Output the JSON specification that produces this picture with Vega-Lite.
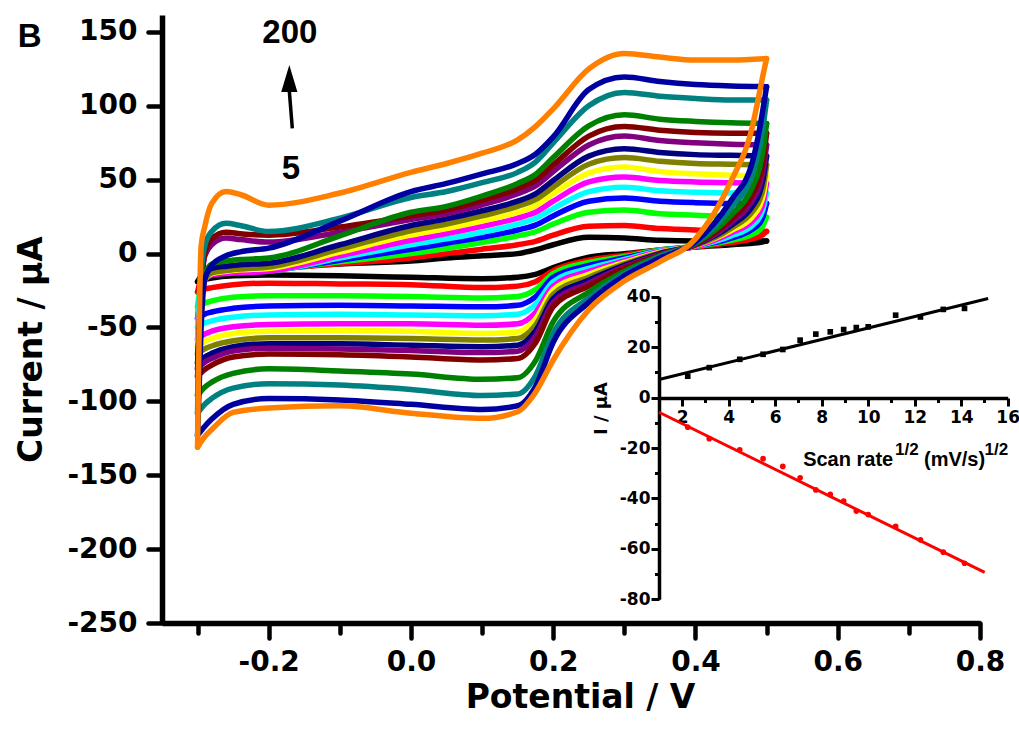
{
"$schema": "https://vega.github.io/schema/vega-lite/v6.json",
"width": 818, "height": 608,
"autosize": {"type": "none"},
"padding": {"left": 162, "top": 15, "right": 39, "bottom": 112},
"background": "white",
"config": {"view": {"stroke": null}, "axis": {"grid": false}},
"datasets": {
"cv": [
{"s":5,"b":"u","x":-0.3,"y":-19},{"s":5,"b":"u","x":-0.295,"y":-15},{"s":5,"b":"u","x":-0.29,"y":-13},{"s":5,"b":"u","x":-0.28,"y":-11.5},{"s":5,"b":"u","x":-0.26,"y":-10.5},{"s":5,"b":"u","x":-0.24,"y":-10},{"s":5,"b":"u","x":-0.2,"y":-9},{"s":5,"b":"u","x":-0.1,"y":-7},{"s":5,"b":"u","x":0,"y":-5},{"s":5,"b":"u","x":0.05,"y":-3},{"s":5,"b":"u","x":0.1,"y":-1.5},{"s":5,"b":"u","x":0.15,"y":0},{"s":5,"b":"u","x":0.175,"y":2.5},{"s":5,"b":"u","x":0.2,"y":6},{"s":5,"b":"u","x":0.25,"y":11},{"s":5,"b":"u","x":0.3,"y":10.5},{"s":5,"b":"u","x":0.35,"y":9},{"s":5,"b":"u","x":0.4,"y":8.5},{"s":5,"b":"u","x":0.45,"y":8.5},{"s":5,"b":"u","x":0.5,"y":8.5},
{"s":5,"b":"l","x":0.5,"y":8.5},{"s":5,"b":"l","x":0.495,"y":8},{"s":5,"b":"l","x":0.49,"y":7.5},{"s":5,"b":"l","x":0.48,"y":7},{"s":5,"b":"l","x":0.45,"y":6},{"s":5,"b":"l","x":0.4,"y":4.5},{"s":5,"b":"l","x":0.35,"y":2.5},{"s":5,"b":"l","x":0.3,"y":0},{"s":5,"b":"l","x":0.25,"y":-2.5},{"s":5,"b":"l","x":0.2,"y":-9.5},{"s":5,"b":"l","x":0.175,"y":-14},{"s":5,"b":"l","x":0.15,"y":-16},{"s":5,"b":"l","x":0.1,"y":-17},{"s":5,"b":"l","x":0,"y":-16},{"s":5,"b":"l","x":-0.1,"y":-15},{"s":5,"b":"l","x":-0.2,"y":-14.5},{"s":5,"b":"l","x":-0.25,"y":-15},{"s":5,"b":"l","x":-0.28,"y":-16.5},{"s":5,"b":"l","x":-0.29,"y":-17.5},{"s":5,"b":"l","x":-0.3,"y":-19},
{"s":10,"b":"u","x":-0.3,"y":-26},{"s":10,"b":"u","x":-0.295,"y":-17},{"s":10,"b":"u","x":-0.29,"y":-14},{"s":10,"b":"u","x":-0.28,"y":-12.5},{"s":10,"b":"u","x":-0.26,"y":-12},{"s":10,"b":"u","x":-0.24,"y":-11.5},{"s":10,"b":"u","x":-0.2,"y":-10.5},{"s":10,"b":"u","x":-0.1,"y":-6.8},{"s":10,"b":"u","x":0,"y":-3},{"s":10,"b":"u","x":0.05,"y":0},{"s":10,"b":"u","x":0.1,"y":3},{"s":10,"b":"u","x":0.15,"y":6},{"s":10,"b":"u","x":0.175,"y":8.3},{"s":10,"b":"u","x":0.2,"y":12.5},{"s":10,"b":"u","x":0.25,"y":18.5},{"s":10,"b":"u","x":0.3,"y":19},{"s":10,"b":"u","x":0.35,"y":17},{"s":10,"b":"u","x":0.4,"y":16},{"s":10,"b":"u","x":0.45,"y":15.5},{"s":10,"b":"u","x":0.5,"y":15},
{"s":10,"b":"l","x":0.5,"y":15},{"s":10,"b":"l","x":0.495,"y":13},{"s":10,"b":"l","x":0.49,"y":11.5},{"s":10,"b":"l","x":0.48,"y":10},{"s":10,"b":"l","x":0.45,"y":7.5},{"s":10,"b":"l","x":0.4,"y":4.5},{"s":10,"b":"l","x":0.35,"y":2.5},{"s":10,"b":"l","x":0.3,"y":-1},{"s":10,"b":"l","x":0.25,"y":-4.5},{"s":10,"b":"l","x":0.2,"y":-11.5},{"s":10,"b":"l","x":0.175,"y":-19},{"s":10,"b":"l","x":0.15,"y":-22},{"s":10,"b":"l","x":0.1,"y":-23},{"s":10,"b":"l","x":0,"y":-21},{"s":10,"b":"l","x":-0.1,"y":-20.5},{"s":10,"b":"l","x":-0.2,"y":-20},{"s":10,"b":"l","x":-0.25,"y":-21},{"s":10,"b":"l","x":-0.28,"y":-23},{"s":10,"b":"l","x":-0.29,"y":-24},{"s":10,"b":"l","x":-0.3,"y":-26},
{"s":20,"b":"u","x":-0.3,"y":-36},{"s":20,"b":"u","x":-0.295,"y":-21},{"s":20,"b":"u","x":-0.29,"y":-15.5},{"s":20,"b":"u","x":-0.28,"y":-13.5},{"s":20,"b":"u","x":-0.26,"y":-12.5},{"s":20,"b":"u","x":-0.24,"y":-12},{"s":20,"b":"u","x":-0.2,"y":-11},{"s":20,"b":"u","x":-0.1,"y":-5.5},{"s":20,"b":"u","x":0,"y":0},{"s":20,"b":"u","x":0.05,"y":3.5},{"s":20,"b":"u","x":0.1,"y":7.5},{"s":20,"b":"u","x":0.15,"y":12},{"s":20,"b":"u","x":0.175,"y":14.8},{"s":20,"b":"u","x":0.2,"y":20},{"s":20,"b":"u","x":0.25,"y":28},{"s":20,"b":"u","x":0.3,"y":29.5},{"s":20,"b":"u","x":0.35,"y":27},{"s":20,"b":"u","x":0.4,"y":26},{"s":20,"b":"u","x":0.45,"y":25},{"s":20,"b":"u","x":0.5,"y":24.7},
{"s":20,"b":"l","x":0.5,"y":24.7},{"s":20,"b":"l","x":0.495,"y":19},{"s":20,"b":"l","x":0.49,"y":16},{"s":20,"b":"l","x":0.48,"y":13},{"s":20,"b":"l","x":0.45,"y":9},{"s":20,"b":"l","x":0.4,"y":5},{"s":20,"b":"l","x":0.35,"y":2.5},{"s":20,"b":"l","x":0.3,"y":-2},{"s":20,"b":"l","x":0.25,"y":-6},{"s":20,"b":"l","x":0.2,"y":-13.5},{"s":20,"b":"l","x":0.175,"y":-24.4},{"s":20,"b":"l","x":0.15,"y":-29},{"s":20,"b":"l","x":0.1,"y":-30},{"s":20,"b":"l","x":0,"y":-29},{"s":20,"b":"l","x":-0.1,"y":-28.5},{"s":20,"b":"l","x":-0.2,"y":-28.5},{"s":20,"b":"l","x":-0.25,"y":-29.5},{"s":20,"b":"l","x":-0.28,"y":-32},{"s":20,"b":"l","x":-0.29,"y":-33.5},{"s":20,"b":"l","x":-0.3,"y":-36},
{"s":30,"b":"u","x":-0.3,"y":-44},{"s":30,"b":"u","x":-0.295,"y":-24},{"s":30,"b":"u","x":-0.29,"y":-16.5},{"s":30,"b":"u","x":-0.28,"y":-14},{"s":30,"b":"u","x":-0.26,"y":-13},{"s":30,"b":"u","x":-0.24,"y":-12.5},{"s":30,"b":"u","x":-0.2,"y":-11.5},{"s":30,"b":"u","x":-0.1,"y":-4.5},{"s":30,"b":"u","x":0,"y":3},{"s":30,"b":"u","x":0.05,"y":7},{"s":30,"b":"u","x":0.1,"y":11},{"s":30,"b":"u","x":0.15,"y":16},{"s":30,"b":"u","x":0.175,"y":19.3},{"s":30,"b":"u","x":0.2,"y":25.5},{"s":30,"b":"u","x":0.25,"y":35.5},{"s":30,"b":"u","x":0.3,"y":37.6},{"s":30,"b":"u","x":0.35,"y":35.5},{"s":30,"b":"u","x":0.4,"y":34.5},{"s":30,"b":"u","x":0.45,"y":34},{"s":30,"b":"u","x":0.5,"y":34},
{"s":30,"b":"l","x":0.5,"y":34},{"s":30,"b":"l","x":0.495,"y":25},{"s":30,"b":"l","x":0.49,"y":20.5},{"s":30,"b":"l","x":0.48,"y":16.5},{"s":30,"b":"l","x":0.45,"y":10.5},{"s":30,"b":"l","x":0.4,"y":5},{"s":30,"b":"l","x":0.35,"y":2},{"s":30,"b":"l","x":0.3,"y":-3},{"s":30,"b":"l","x":0.25,"y":-8},{"s":30,"b":"l","x":0.2,"y":-16},{"s":30,"b":"l","x":0.175,"y":-29.3},{"s":30,"b":"l","x":0.15,"y":-35},{"s":30,"b":"l","x":0.1,"y":-36},{"s":30,"b":"l","x":0,"y":-35.5},{"s":30,"b":"l","x":-0.1,"y":-35},{"s":30,"b":"l","x":-0.2,"y":-35.5},{"s":30,"b":"l","x":-0.25,"y":-37},{"s":30,"b":"l","x":-0.28,"y":-39.5},{"s":30,"b":"l","x":-0.29,"y":-41},{"s":30,"b":"l","x":-0.3,"y":-44},
{"s":40,"b":"u","x":-0.3,"y":-50},{"s":40,"b":"u","x":-0.295,"y":-17},{"s":40,"b":"u","x":-0.29,"y":-14},{"s":40,"b":"u","x":-0.28,"y":-13},{"s":40,"b":"u","x":-0.26,"y":-12.5},{"s":40,"b":"u","x":-0.24,"y":-12},{"s":40,"b":"u","x":-0.2,"y":-11.5},{"s":40,"b":"u","x":-0.1,"y":-3},{"s":40,"b":"u","x":0,"y":6},{"s":40,"b":"u","x":0.05,"y":10},{"s":40,"b":"u","x":0.1,"y":14.5},{"s":40,"b":"u","x":0.15,"y":20},{"s":40,"b":"u","x":0.175,"y":23.7},{"s":40,"b":"u","x":0.2,"y":30.5},{"s":40,"b":"u","x":0.25,"y":42},{"s":40,"b":"u","x":0.3,"y":45},{"s":40,"b":"u","x":0.35,"y":42.5},{"s":40,"b":"u","x":0.4,"y":41.5},{"s":40,"b":"u","x":0.45,"y":41},{"s":40,"b":"u","x":0.5,"y":41},
{"s":40,"b":"l","x":0.5,"y":41},{"s":40,"b":"l","x":0.495,"y":30},{"s":40,"b":"l","x":0.49,"y":24.5},{"s":40,"b":"l","x":0.48,"y":19},{"s":40,"b":"l","x":0.45,"y":12},{"s":40,"b":"l","x":0.4,"y":5},{"s":40,"b":"l","x":0.35,"y":2},{"s":40,"b":"l","x":0.3,"y":-4},{"s":40,"b":"l","x":0.25,"y":-10},{"s":40,"b":"l","x":0.2,"y":-19},{"s":40,"b":"l","x":0.175,"y":-34.4},{"s":40,"b":"l","x":0.15,"y":-41},{"s":40,"b":"l","x":0.1,"y":-42},{"s":40,"b":"l","x":0,"y":-41.5},{"s":40,"b":"l","x":-0.1,"y":-41},{"s":40,"b":"l","x":-0.2,"y":-41.5},{"s":40,"b":"l","x":-0.25,"y":-43},{"s":40,"b":"l","x":-0.28,"y":-45.5},{"s":40,"b":"l","x":-0.29,"y":-47},{"s":40,"b":"l","x":-0.3,"y":-50},
{"s":50,"b":"u","x":-0.3,"y":-58},{"s":50,"b":"u","x":-0.295,"y":-30},{"s":50,"b":"u","x":-0.29,"y":-18},{"s":50,"b":"u","x":-0.28,"y":-14.5},{"s":50,"b":"u","x":-0.26,"y":-13.5},{"s":50,"b":"u","x":-0.24,"y":-13},{"s":50,"b":"u","x":-0.2,"y":-12},{"s":50,"b":"u","x":-0.1,"y":-1.5},{"s":50,"b":"u","x":0,"y":9},{"s":50,"b":"u","x":0.05,"y":13.5},{"s":50,"b":"u","x":0.1,"y":18.5},{"s":50,"b":"u","x":0.15,"y":24},{"s":50,"b":"u","x":0.175,"y":28},{"s":50,"b":"u","x":0.2,"y":35.5},{"s":50,"b":"u","x":0.25,"y":48.5},{"s":50,"b":"u","x":0.3,"y":51.8},{"s":50,"b":"u","x":0.35,"y":49.5},{"s":50,"b":"u","x":0.4,"y":48.5},{"s":50,"b":"u","x":0.45,"y":48},{"s":50,"b":"u","x":0.5,"y":47.7},
{"s":50,"b":"l","x":0.5,"y":47.7},{"s":50,"b":"l","x":0.495,"y":34},{"s":50,"b":"l","x":0.49,"y":28},{"s":50,"b":"l","x":0.48,"y":22},{"s":50,"b":"l","x":0.45,"y":14},{"s":50,"b":"l","x":0.4,"y":5},{"s":50,"b":"l","x":0.35,"y":1.5},{"s":50,"b":"l","x":0.3,"y":-5},{"s":50,"b":"l","x":0.25,"y":-12},{"s":50,"b":"l","x":0.2,"y":-22},{"s":50,"b":"l","x":0.175,"y":-39.9},{"s":50,"b":"l","x":0.15,"y":-47.5},{"s":50,"b":"l","x":0.1,"y":-48.5},{"s":50,"b":"l","x":0,"y":-47.5},{"s":50,"b":"l","x":-0.1,"y":-47.5},{"s":50,"b":"l","x":-0.2,"y":-48},{"s":50,"b":"l","x":-0.25,"y":-49.5},{"s":50,"b":"l","x":-0.28,"y":-52.5},{"s":50,"b":"l","x":-0.29,"y":-54.5},{"s":50,"b":"l","x":-0.3,"y":-58},
{"s":60,"b":"u","x":-0.3,"y":-63},{"s":60,"b":"u","x":-0.295,"y":-32},{"s":60,"b":"u","x":-0.29,"y":-18},{"s":60,"b":"u","x":-0.28,"y":-13.5},{"s":60,"b":"u","x":-0.26,"y":-12},{"s":60,"b":"u","x":-0.24,"y":-11},{"s":60,"b":"u","x":-0.2,"y":-10},{"s":60,"b":"u","x":-0.1,"y":1},{"s":60,"b":"u","x":0,"y":12.5},{"s":60,"b":"u","x":0.05,"y":17},{"s":60,"b":"u","x":0.1,"y":22},{"s":60,"b":"u","x":0.15,"y":28},{"s":60,"b":"u","x":0.175,"y":32.4},{"s":60,"b":"u","x":0.2,"y":40.5},{"s":60,"b":"u","x":0.25,"y":54.5},{"s":60,"b":"u","x":0.3,"y":58.6},{"s":60,"b":"u","x":0.35,"y":55.5},{"s":60,"b":"u","x":0.4,"y":54},{"s":60,"b":"u","x":0.45,"y":53},{"s":60,"b":"u","x":0.5,"y":52.5},
{"s":60,"b":"l","x":0.5,"y":52.5},{"s":60,"b":"l","x":0.495,"y":39},{"s":60,"b":"l","x":0.49,"y":32},{"s":60,"b":"l","x":0.48,"y":25},{"s":60,"b":"l","x":0.45,"y":15.5},{"s":60,"b":"l","x":0.4,"y":5.5},{"s":60,"b":"l","x":0.35,"y":1},{"s":60,"b":"l","x":0.3,"y":-6},{"s":60,"b":"l","x":0.25,"y":-14},{"s":60,"b":"l","x":0.2,"y":-24.5},{"s":60,"b":"l","x":0.175,"y":-44.5},{"s":60,"b":"l","x":0.15,"y":-53},{"s":60,"b":"l","x":0.1,"y":-54},{"s":60,"b":"l","x":0,"y":-52.5},{"s":60,"b":"l","x":-0.1,"y":-52},{"s":60,"b":"l","x":-0.2,"y":-52.5},{"s":60,"b":"l","x":-0.25,"y":-54},{"s":60,"b":"l","x":-0.28,"y":-57.5},{"s":60,"b":"l","x":-0.29,"y":-59.5},{"s":60,"b":"l","x":-0.3,"y":-63},
{"s":70,"b":"u","x":-0.3,"y":-68},{"s":70,"b":"u","x":-0.295,"y":-35},{"s":70,"b":"u","x":-0.29,"y":-18},{"s":70,"b":"u","x":-0.28,"y":-13},{"s":70,"b":"u","x":-0.26,"y":-11.5},{"s":70,"b":"u","x":-0.24,"y":-10.5},{"s":70,"b":"u","x":-0.2,"y":-9},{"s":70,"b":"u","x":-0.1,"y":3},{"s":70,"b":"u","x":0,"y":15.5},{"s":70,"b":"u","x":0.05,"y":20},{"s":70,"b":"u","x":0.1,"y":25.5},{"s":70,"b":"u","x":0.15,"y":32},{"s":70,"b":"u","x":0.175,"y":36.5},{"s":70,"b":"u","x":0.2,"y":45},{"s":70,"b":"u","x":0.25,"y":60.5},{"s":70,"b":"u","x":0.3,"y":65},{"s":70,"b":"u","x":0.35,"y":62.5},{"s":70,"b":"u","x":0.4,"y":61},{"s":70,"b":"u","x":0.45,"y":60.5},{"s":70,"b":"u","x":0.5,"y":60},
{"s":70,"b":"l","x":0.5,"y":60},{"s":70,"b":"l","x":0.495,"y":44},{"s":70,"b":"l","x":0.49,"y":36},{"s":70,"b":"l","x":0.48,"y":28.5},{"s":70,"b":"l","x":0.45,"y":17},{"s":70,"b":"l","x":0.4,"y":5.5},{"s":70,"b":"l","x":0.35,"y":0.5},{"s":70,"b":"l","x":0.3,"y":-7},{"s":70,"b":"l","x":0.25,"y":-16},{"s":70,"b":"l","x":0.2,"y":-27.5},{"s":70,"b":"l","x":0.175,"y":-48.5},{"s":70,"b":"l","x":0.15,"y":-57.5},{"s":70,"b":"l","x":0.1,"y":-58.5},{"s":70,"b":"l","x":0,"y":-57.5},{"s":70,"b":"l","x":-0.1,"y":-57},{"s":70,"b":"l","x":-0.2,"y":-57},{"s":70,"b":"l","x":-0.25,"y":-59},{"s":70,"b":"l","x":-0.28,"y":-62.5},{"s":70,"b":"l","x":-0.29,"y":-64.5},{"s":70,"b":"l","x":-0.3,"y":-68},
{"s":80,"b":"u","x":-0.3,"y":-74},{"s":80,"b":"u","x":-0.295,"y":-35},{"s":80,"b":"u","x":-0.29,"y":-16},{"s":80,"b":"u","x":-0.28,"y":-10},{"s":80,"b":"u","x":-0.26,"y":-8.5},{"s":80,"b":"u","x":-0.24,"y":-7.5},{"s":80,"b":"u","x":-0.2,"y":-6.5},{"s":80,"b":"u","x":-0.1,"y":6},{"s":80,"b":"u","x":0,"y":19},{"s":80,"b":"u","x":0.05,"y":23.5},{"s":80,"b":"u","x":0.1,"y":29},{"s":80,"b":"u","x":0.15,"y":35.5},{"s":80,"b":"u","x":0.175,"y":40.4},{"s":80,"b":"u","x":0.2,"y":49.5},{"s":80,"b":"u","x":0.25,"y":66},{"s":80,"b":"u","x":0.3,"y":71},{"s":80,"b":"u","x":0.35,"y":68.5},{"s":80,"b":"u","x":0.4,"y":67},{"s":80,"b":"u","x":0.45,"y":66.5},{"s":80,"b":"u","x":0.5,"y":66},
{"s":80,"b":"l","x":0.5,"y":66},{"s":80,"b":"l","x":0.495,"y":50},{"s":80,"b":"l","x":0.49,"y":41},{"s":80,"b":"l","x":0.48,"y":32},{"s":80,"b":"l","x":0.45,"y":19},{"s":80,"b":"l","x":0.4,"y":6},{"s":80,"b":"l","x":0.35,"y":0},{"s":80,"b":"l","x":0.3,"y":-8},{"s":80,"b":"l","x":0.25,"y":-18},{"s":80,"b":"l","x":0.2,"y":-30.5},{"s":80,"b":"l","x":0.175,"y":-52.5},{"s":80,"b":"l","x":0.15,"y":-62},{"s":80,"b":"l","x":0.1,"y":-63},{"s":80,"b":"l","x":0,"y":-62},{"s":80,"b":"l","x":-0.1,"y":-61},{"s":80,"b":"l","x":-0.2,"y":-61},{"s":80,"b":"l","x":-0.25,"y":-63},{"s":80,"b":"l","x":-0.28,"y":-67.5},{"s":80,"b":"l","x":-0.29,"y":-70},{"s":80,"b":"l","x":-0.3,"y":-74},
{"s":90,"b":"u","x":-0.3,"y":-78},{"s":90,"b":"u","x":-0.295,"y":-25},{"s":90,"b":"u","x":-0.29,"y":-2},{"s":90,"b":"u","x":-0.28,"y":6},{"s":90,"b":"u","x":-0.26,"y":10.5},{"s":90,"b":"u","x":-0.24,"y":9.5},{"s":90,"b":"u","x":-0.2,"y":7.8},{"s":90,"b":"u","x":-0.1,"y":14.5},{"s":90,"b":"u","x":0,"y":23},{"s":90,"b":"u","x":0.05,"y":27},{"s":90,"b":"u","x":0.1,"y":33},{"s":90,"b":"u","x":0.15,"y":40.5},{"s":90,"b":"u","x":0.175,"y":45.8},{"s":90,"b":"u","x":0.2,"y":55.5},{"s":90,"b":"u","x":0.25,"y":73.5},{"s":90,"b":"u","x":0.3,"y":79.6},{"s":90,"b":"u","x":0.35,"y":76.5},{"s":90,"b":"u","x":0.4,"y":75},{"s":90,"b":"u","x":0.45,"y":74},{"s":90,"b":"u","x":0.5,"y":73.5},
{"s":90,"b":"l","x":0.5,"y":73.5},{"s":90,"b":"l","x":0.495,"y":56},{"s":90,"b":"l","x":0.49,"y":46},{"s":90,"b":"l","x":0.48,"y":36},{"s":90,"b":"l","x":0.45,"y":21},{"s":90,"b":"l","x":0.4,"y":6},{"s":90,"b":"l","x":0.35,"y":-0.5},{"s":90,"b":"l","x":0.3,"y":-9},{"s":90,"b":"l","x":0.25,"y":-20},{"s":90,"b":"l","x":0.2,"y":-33},{"s":90,"b":"l","x":0.175,"y":-56},{"s":90,"b":"l","x":0.15,"y":-66},{"s":90,"b":"l","x":0.1,"y":-67},{"s":90,"b":"l","x":0,"y":-65.5},{"s":90,"b":"l","x":-0.1,"y":-64.5},{"s":90,"b":"l","x":-0.2,"y":-64},{"s":90,"b":"l","x":-0.25,"y":-66},{"s":90,"b":"l","x":-0.28,"y":-71},{"s":90,"b":"l","x":-0.29,"y":-73.5},{"s":90,"b":"l","x":-0.3,"y":-78},
{"s":100,"b":"u","x":-0.3,"y":-83},{"s":100,"b":"u","x":-0.295,"y":-25},{"s":100,"b":"u","x":-0.29,"y":0},{"s":100,"b":"u","x":-0.28,"y":10},{"s":100,"b":"u","x":-0.26,"y":14.5},{"s":100,"b":"u","x":-0.24,"y":13.5},{"s":100,"b":"u","x":-0.2,"y":12.5},{"s":100,"b":"u","x":-0.1,"y":18},{"s":100,"b":"u","x":0,"y":25.5},{"s":100,"b":"u","x":0.05,"y":29.5},{"s":100,"b":"u","x":0.1,"y":36},{"s":100,"b":"u","x":0.15,"y":44},{"s":100,"b":"u","x":0.175,"y":49.6},{"s":100,"b":"u","x":0.2,"y":60},{"s":100,"b":"u","x":0.25,"y":79.5},{"s":100,"b":"u","x":0.3,"y":86},{"s":100,"b":"u","x":0.35,"y":83.5},{"s":100,"b":"u","x":0.4,"y":82},{"s":100,"b":"u","x":0.45,"y":81.5},{"s":100,"b":"u","x":0.5,"y":81.5},
{"s":100,"b":"l","x":0.5,"y":81.5},{"s":100,"b":"l","x":0.495,"y":62},{"s":100,"b":"l","x":0.49,"y":51},{"s":100,"b":"l","x":0.48,"y":40},{"s":100,"b":"l","x":0.45,"y":23},{"s":100,"b":"l","x":0.4,"y":6.5},{"s":100,"b":"l","x":0.35,"y":-1},{"s":100,"b":"l","x":0.3,"y":-10},{"s":100,"b":"l","x":0.25,"y":-22},{"s":100,"b":"l","x":0.2,"y":-36},{"s":100,"b":"l","x":0.175,"y":-60.5},{"s":100,"b":"l","x":0.15,"y":-71},{"s":100,"b":"l","x":0.1,"y":-72},{"s":100,"b":"l","x":0,"y":-70},{"s":100,"b":"l","x":-0.1,"y":-68.5},{"s":100,"b":"l","x":-0.2,"y":-68},{"s":100,"b":"l","x":-0.25,"y":-70},{"s":100,"b":"l","x":-0.28,"y":-75.5},{"s":100,"b":"l","x":-0.29,"y":-78.5},{"s":100,"b":"l","x":-0.3,"y":-83},
{"s":125,"b":"u","x":-0.3,"y":-96},{"s":125,"b":"u","x":-0.295,"y":-40},{"s":125,"b":"u","x":-0.29,"y":-15},{"s":125,"b":"u","x":-0.28,"y":-7},{"s":125,"b":"u","x":-0.26,"y":-5},{"s":125,"b":"u","x":-0.24,"y":-4},{"s":125,"b":"u","x":-0.2,"y":-3},{"s":125,"b":"u","x":-0.1,"y":12},{"s":125,"b":"u","x":0,"y":28},{"s":125,"b":"u","x":0.05,"y":32},{"s":125,"b":"u","x":0.1,"y":39},{"s":125,"b":"u","x":0.15,"y":47.5},{"s":125,"b":"u","x":0.175,"y":53.6},{"s":125,"b":"u","x":0.2,"y":65},{"s":125,"b":"u","x":0.25,"y":86.5},{"s":125,"b":"u","x":0.3,"y":94},{"s":125,"b":"u","x":0.35,"y":91},{"s":125,"b":"u","x":0.4,"y":89.5},{"s":125,"b":"u","x":0.45,"y":88.5},{"s":125,"b":"u","x":0.5,"y":88},
{"s":125,"b":"l","x":0.5,"y":88},{"s":125,"b":"l","x":0.495,"y":70},{"s":125,"b":"l","x":0.49,"y":58},{"s":125,"b":"l","x":0.48,"y":45},{"s":125,"b":"l","x":0.45,"y":26},{"s":125,"b":"l","x":0.4,"y":7},{"s":125,"b":"l","x":0.35,"y":-1.5},{"s":125,"b":"l","x":0.3,"y":-12},{"s":125,"b":"l","x":0.25,"y":-26},{"s":125,"b":"l","x":0.2,"y":-46},{"s":125,"b":"l","x":0.175,"y":-72.6},{"s":125,"b":"l","x":0.15,"y":-84},{"s":125,"b":"l","x":0.1,"y":-85},{"s":125,"b":"l","x":0,"y":-81.5},{"s":125,"b":"l","x":-0.1,"y":-79.5},{"s":125,"b":"l","x":-0.2,"y":-78},{"s":125,"b":"l","x":-0.25,"y":-81},{"s":125,"b":"l","x":-0.28,"y":-87},{"s":125,"b":"l","x":-0.29,"y":-90.5},{"s":125,"b":"l","x":-0.3,"y":-96},
{"s":150,"b":"u","x":-0.3,"y":-108},{"s":150,"b":"u","x":-0.295,"y":-15},{"s":150,"b":"u","x":-0.29,"y":5},{"s":150,"b":"u","x":-0.28,"y":15},{"s":150,"b":"u","x":-0.26,"y":20.5},{"s":150,"b":"u","x":-0.24,"y":19},{"s":150,"b":"u","x":-0.2,"y":15},{"s":150,"b":"u","x":-0.1,"y":24},{"s":150,"b":"u","x":0,"y":38},{"s":150,"b":"u","x":0.05,"y":42},{"s":150,"b":"u","x":0.1,"y":48},{"s":150,"b":"u","x":0.15,"y":55},{"s":150,"b":"u","x":0.175,"y":62},{"s":150,"b":"u","x":0.2,"y":75},{"s":150,"b":"u","x":0.25,"y":100},{"s":150,"b":"u","x":0.3,"y":109},{"s":150,"b":"u","x":0.35,"y":106.5},{"s":150,"b":"u","x":0.4,"y":105},{"s":150,"b":"u","x":0.45,"y":104},{"s":150,"b":"u","x":0.5,"y":104},
{"s":150,"b":"l","x":0.5,"y":104},{"s":150,"b":"l","x":0.495,"y":86},{"s":150,"b":"l","x":0.49,"y":72},{"s":150,"b":"l","x":0.48,"y":54},{"s":150,"b":"l","x":0.45,"y":31},{"s":150,"b":"l","x":0.4,"y":7.5},{"s":150,"b":"l","x":0.35,"y":-2},{"s":150,"b":"l","x":0.3,"y":-13.5},{"s":150,"b":"l","x":0.25,"y":-30},{"s":150,"b":"l","x":0.2,"y":-54},{"s":150,"b":"l","x":0.175,"y":-82.7},{"s":150,"b":"l","x":0.15,"y":-95},{"s":150,"b":"l","x":0.1,"y":-96},{"s":150,"b":"l","x":0,"y":-92},{"s":150,"b":"l","x":-0.1,"y":-89},{"s":150,"b":"l","x":-0.2,"y":-88},{"s":150,"b":"l","x":-0.25,"y":-91},{"s":150,"b":"l","x":-0.28,"y":-98},{"s":150,"b":"l","x":-0.29,"y":-102},{"s":150,"b":"l","x":-0.3,"y":-108},
{"s":175,"b":"u","x":-0.3,"y":-123},{"s":175,"b":"u","x":-0.295,"y":-50},{"s":175,"b":"u","x":-0.29,"y":-18},{"s":175,"b":"u","x":-0.28,"y":-8},{"s":175,"b":"u","x":-0.26,"y":-1.5},{"s":175,"b":"u","x":-0.24,"y":1.2},{"s":175,"b":"u","x":-0.2,"y":3.7},{"s":175,"b":"u","x":-0.1,"y":22},{"s":175,"b":"u","x":0,"y":42},{"s":175,"b":"u","x":0.05,"y":47.5},{"s":175,"b":"u","x":0.1,"y":54},{"s":175,"b":"u","x":0.15,"y":61},{"s":175,"b":"u","x":0.175,"y":67.3},{"s":175,"b":"u","x":0.2,"y":79},{"s":175,"b":"u","x":0.25,"y":111},{"s":175,"b":"u","x":0.3,"y":119.5},{"s":175,"b":"u","x":0.35,"y":116.5},{"s":175,"b":"u","x":0.4,"y":114.5},{"s":175,"b":"u","x":0.45,"y":113.5},{"s":175,"b":"u","x":0.5,"y":113},
{"s":175,"b":"l","x":0.5,"y":113},{"s":175,"b":"l","x":0.495,"y":98},{"s":175,"b":"l","x":0.49,"y":84},{"s":175,"b":"l","x":0.48,"y":62},{"s":175,"b":"l","x":0.45,"y":36},{"s":175,"b":"l","x":0.4,"y":8},{"s":175,"b":"l","x":0.35,"y":-3},{"s":175,"b":"l","x":0.3,"y":-15},{"s":175,"b":"l","x":0.25,"y":-33},{"s":175,"b":"l","x":0.2,"y":-60},{"s":175,"b":"l","x":0.175,"y":-90},{"s":175,"b":"l","x":0.15,"y":-103},{"s":175,"b":"l","x":0.1,"y":-105.5},{"s":175,"b":"l","x":0,"y":-102},{"s":175,"b":"l","x":-0.1,"y":-99},{"s":175,"b":"l","x":-0.2,"y":-98},{"s":175,"b":"l","x":-0.25,"y":-102},{"s":175,"b":"l","x":-0.28,"y":-112},{"s":175,"b":"l","x":-0.29,"y":-117},{"s":175,"b":"l","x":-0.3,"y":-123},
{"s":200,"b":"u","x":-0.3,"y":-131},{"s":200,"b":"u","x":-0.295,"y":5},{"s":200,"b":"u","x":-0.29,"y":18},{"s":200,"b":"u","x":-0.28,"y":34},{"s":200,"b":"u","x":-0.26,"y":42},{"s":200,"b":"u","x":-0.24,"y":40},{"s":200,"b":"u","x":-0.2,"y":32.8},{"s":200,"b":"u","x":-0.1,"y":41},{"s":200,"b":"u","x":0,"y":55},{"s":200,"b":"u","x":0.05,"y":61},{"s":200,"b":"u","x":0.1,"y":68},{"s":200,"b":"u","x":0.15,"y":77},{"s":200,"b":"u","x":0.175,"y":86},{"s":200,"b":"u","x":0.2,"y":98},{"s":200,"b":"u","x":0.25,"y":125},{"s":200,"b":"u","x":0.3,"y":135.5},{"s":200,"b":"u","x":0.35,"y":133},{"s":200,"b":"u","x":0.4,"y":131},{"s":200,"b":"u","x":0.45,"y":131},{"s":200,"b":"u","x":0.5,"y":132},
{"s":200,"b":"l","x":0.5,"y":132},{"s":200,"b":"l","x":0.495,"y":121},{"s":200,"b":"l","x":0.49,"y":109},{"s":200,"b":"l","x":0.48,"y":86},{"s":200,"b":"l","x":0.45,"y":49},{"s":200,"b":"l","x":0.4,"y":10},{"s":200,"b":"l","x":0.35,"y":-5.5},{"s":200,"b":"l","x":0.3,"y":-18.5},{"s":200,"b":"l","x":0.25,"y":-38},{"s":200,"b":"l","x":0.2,"y":-72},{"s":200,"b":"l","x":0.175,"y":-94},{"s":200,"b":"l","x":0.15,"y":-107},{"s":200,"b":"l","x":0.1,"y":-111.5},{"s":200,"b":"l","x":0,"y":-108},{"s":200,"b":"l","x":-0.1,"y":-103},{"s":200,"b":"l","x":-0.2,"y":-104.5},{"s":200,"b":"l","x":-0.25,"y":-107.5},{"s":200,"b":"l","x":-0.28,"y":-119},{"s":200,"b":"l","x":-0.29,"y":-124},{"s":200,"b":"l","x":-0.3,"y":-131}
],
"pts": [
{"g":"a","x":2.236,"y":8.5},{"g":"a","x":3.162,"y":11.9},{"g":"a","x":4.472,"y":15.2},{"g":"a","x":5.477,"y":17.2},{"g":"a","x":6.325,"y":19.1},{"g":"a","x":7.071,"y":22.8},{"g":"a","x":7.746,"y":25.2},{"g":"a","x":8.367,"y":26.1},{"g":"a","x":8.944,"y":27},{"g":"a","x":9.487,"y":27.8},{"g":"a","x":10,"y":28.1},{"g":"a","x":11.18,"y":32.7},{"g":"a","x":12.247,"y":32},{"g":"a","x":13.229,"y":35},{"g":"a","x":14.142,"y":35.4},
{"g":"c","x":2.236,"y":-11.7},{"g":"c","x":3.162,"y":-16.3},{"g":"c","x":4.472,"y":-20.7},{"g":"c","x":5.477,"y":-24.2},{"g":"c","x":6.325,"y":-27.3},{"g":"c","x":7.071,"y":-31.8},{"g":"c","x":7.746,"y":-36.6},{"g":"c","x":8.367,"y":-38.4},{"g":"c","x":8.944,"y":-41},{"g":"c","x":9.487,"y":-45},{"g":"c","x":10,"y":-46.4},{"g":"c","x":11.18,"y":-51.1},{"g":"c","x":12.247,"y":-56.4},{"g":"c","x":13.229,"y":-61.3},{"g":"c","x":14.142,"y":-65.7}
],
"fit": [
{"g":"a","x":1,"y":7.2},{"g":"a","x":15.16,"y":39.3},{"g":"c","x":1,"y":-5.8},{"g":"c","x":15.01,"y":-69.3}
]
},
"layer": [
{
"layer": [
{
"data": {"name": "cv"},
"mark": {"type": "line", "interpolate": "monotone", "strokeWidth": 5.5, "strokeCap": "round", "strokeJoin": "round"},
"encoding": {
"x": {"field": "x", "type": "quantitative",
 "scale": {"domain": [-0.35, 0.8], "nice": false, "zero": false},
 "axis": {"title": "Potential / V", "values": [-0.3,-0.2,-0.1,0,0.1,0.2,0.3,0.4,0.5,0.6,0.7,0.8],
  "labelExpr": "abs(round(datum.value*10)) % 2 === 0 ? replace(format(datum.value, '.1f'), '\u2212', '-') : ''",
  "tickSize": {"condition": {"test": "abs(round(datum.value*10)) % 2 === 1", "value": 10}, "value": 15},
  "tickWidth": 4.5, "tickColor": "black", "tickCap": "round", "domainColor": "black", "domainWidth": 5.5,
  "labelFont": "DejaVu Sans", "labelFontSize": 28, "labelFontWeight": "bold", "labelColor": "black", "labelPadding": 10,
  "labelFlush": false, "labelOverlap": false,
  "titleFont": "DejaVu Sans", "titleFontSize": 33, "titleFontWeight": "bold", "titleColor": "black",
  "titleX": 418, "titleY": 74, "titleBaseline": "middle", "titleAlign": "center"}},
"y": {"field": "y", "type": "quantitative",
 "scale": {"domain": [-250, 161.5], "nice": false, "zero": false},
 "axis": {"title": "Current / µA", "values": [-250,-225,-200,-175,-150,-125,-100,-75,-50,-25,0,25,50,75,100,125,150],
  "labelExpr": "datum.value % 50 === 0 ? replace(format(datum.value, 'd'), '\u2212', '-') : ''",
  "tickSize": {"condition": {"test": "datum.value % 50 !== 0", "value": 9}, "value": 14},
  "tickWidth": 4.5, "tickColor": "black", "tickCap": "round", "domainColor": "black", "domainWidth": 5.5,
  "labelFont": "DejaVu Sans", "labelFontSize": 28, "labelFontWeight": "bold", "labelColor": "black", "labelPadding": 11,
  "labelFlush": false, "labelOverlap": false,
  "titleFont": "DejaVu Sans", "titleFontSize": 33, "titleFontWeight": "bold", "titleColor": "black",
  "titleX": -131, "titleY": 334, "titleAngle": -90, "titleBaseline": "middle", "titleAlign": "center"}},
"color": {"field": "s", "type": "nominal",
 "scale": {"domain": [5,10,20,30,40,50,60,70,80,90,100,125,150,175,200],
  "range": ["#000000","#FF0000","#00FF00","#0000FF","#00FFFF","#FF00FF","#FFFF00","#808000","#000080","#800080","#800000","#008000","#008080","#0000A0","#FF8000"]},
 "legend": null},
"detail": {"field": "b"},
"order": {"field": "x", "type": "quantitative"}
}
},
{
"data": {"values": [{"x": -0.536, "y": 146.9, "t": "B"}, {"x": -0.1703, "y": 149, "t": "200"}, {"x": -0.1689, "y": 57.6, "t": "5"}]},
"mark": {"type": "text", "font": "Liberation Sans", "fontSize": 33, "fontWeight": "bold", "color": "black", "align": "center", "baseline": "middle"},
"encoding": {"x": {"field": "x", "type": "quantitative"}, "y": {"field": "y", "type": "quantitative"}, "text": {"field": "t"}}
},
{
"data": {"values": [{"x": -0.1668, "y": 84.8, "x2": -0.171, "y2": 110}]},
"mark": {"type": "rule", "strokeWidth": 3.5, "color": "black"},
"encoding": {"x": {"field": "x", "type": "quantitative"}, "y": {"field": "y", "type": "quantitative"}, "x2": {"field": "x2"}, "y2": {"field": "y2"}}
},
{
"data": {"values": [{"x": -0.171, "y": 118.5}]},
"mark": {"type": "point", "shape": "M0,-1L0.6,1L-0.6,1Z", "size": 729, "filled": true, "color": "black", "opacity": 1, "strokeWidth": 0},
"encoding": {"x": {"field": "x", "type": "quantitative"}, "y": {"field": "y", "type": "quantitative"}}
}
]
},
{
"layer": [
{
"data": {"name": "fit"},
"mark": {"type": "line", "strokeWidth": 3},
"encoding": {
"x": {"field": "x", "type": "quantitative",
 "scale": {"domain": [1, 16], "range": [497, 845.7], "nice": false, "zero": false},
 "axis": {"orient": "bottom", "offset": -225, "title": null, "values": [2,3,4,5,6,7,8,9,10,11,12,13,14,15,16],
  "labelExpr": "datum.value % 2 === 0 ? datum.label : ''",
  "tickSize": {"condition": {"test": "datum.value % 2 === 1", "value": 4.5}, "value": 8},
  "tickWidth": 3, "tickColor": "black", "domainColor": "black", "domainWidth": 3.5,
  "labelFont": "DejaVu Sans", "labelFontSize": 17, "labelFontWeight": "bold", "labelColor": "black", "labelPadding": 3,
  "labelFlush": false, "labelOverlap": false}},
"y": {"field": "y", "type": "quantitative",
 "scale": {"domain": [-80, 40], "range": [584.3, 281.8], "nice": false, "zero": false},
 "axis": {"orient": "left", "offset": -497, "title": "I / µA", "values": [-80,-70,-60,-50,-40,-30,-20,-10,0,10,20,30,40],
  "labelExpr": "datum.value % 20 === 0 ? replace(format(datum.value, 'd'), '\u2212', '-') : ''",
  "tickSize": {"condition": {"test": "datum.value % 20 !== 0", "value": 4.5}, "value": 8},
  "tickWidth": 3, "tickColor": "black", "domainColor": "black", "domainWidth": 3.5,
  "labelFont": "DejaVu Sans", "labelFontSize": 17, "labelFontWeight": "bold", "labelColor": "black", "labelPadding": 1,
  "labelFlush": false, "labelOverlap": false,
  "titleFont": "DejaVu Sans", "titleFontSize": 18, "titleFontWeight": "bold", "titleColor": "black",
  "titleX": -58, "titleY": 393, "titleAngle": -90, "titleBaseline": "middle", "titleAlign": "center"}},
"color": {"field": "g", "type": "nominal", "scale": {"domain": ["a", "c"], "range": ["#000000", "#FF0000"]}, "legend": null},
"detail": {"field": "g"}
}
},
{
"data": {"name": "pts"},
"mark": {"type": "point", "filled": true, "size": 32, "opacity": 1},
"encoding": {
"x": {"field": "x", "type": "quantitative"},
"y": {"field": "y", "type": "quantitative"},
"color": {"field": "g", "type": "nominal", "legend": null},
"shape": {"field": "g", "type": "nominal", "scale": {"domain": ["a", "c"], "range": ["square", "circle"]}, "legend": null}
}
},
{
"data": {"values": [{"x": 7.2, "y": -27.1, "t": "Scan rate"}, {"x": 12.4, "y": -27.1, "t": "(mV/s)"}]},
"mark": {"type": "text", "align": "left", "baseline": "alphabetic", "font": "Liberation Sans", "fontSize": 20, "fontWeight": "bold", "color": "black"},
"encoding": {"x": {"field": "x", "type": "quantitative"}, "y": {"field": "y", "type": "quantitative"}, "text": {"field": "t"}}
},
{
"data": {"values": [{"x": 11.15, "y": -22.8, "t": "1/2"}, {"x": 15.0, "y": -22.8, "t": "1/2"}]},
"mark": {"type": "text", "align": "left", "baseline": "alphabetic", "font": "Liberation Sans", "fontSize": 17, "fontWeight": "bold", "color": "black"},
"encoding": {"x": {"field": "x", "type": "quantitative"}, "y": {"field": "y", "type": "quantitative"}, "text": {"field": "t"}}
}
]
}
],
"resolve": {"scale": {"x": "independent", "y": "independent", "color": "independent", "shape": "independent"}}
}
